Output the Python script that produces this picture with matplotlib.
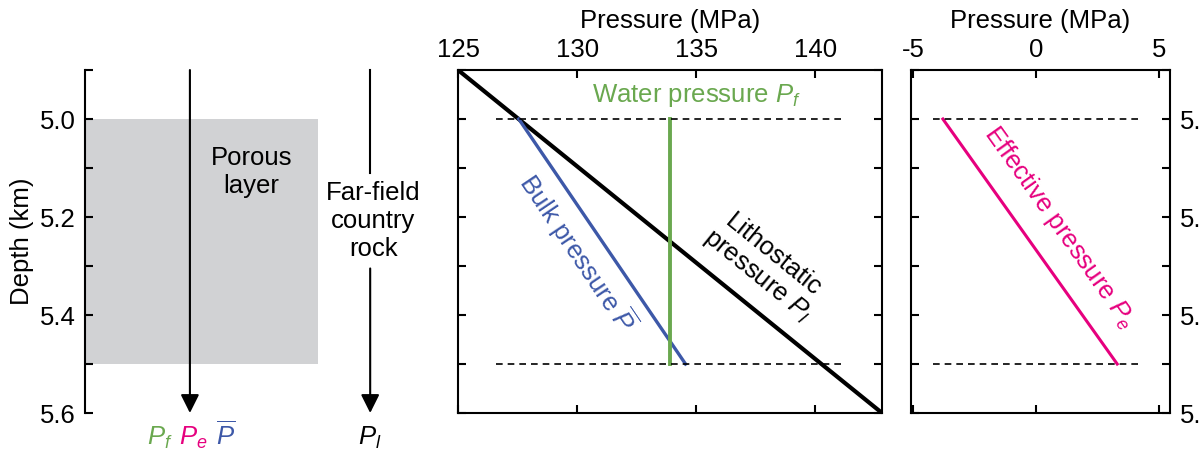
import matplotlib
matplotlib.use("Agg")
import matplotlib.pyplot as plt

plt.rcParams['font.family'] = ['Liberation Sans', 'DejaVu Sans']
plt.rcParams['font.size'] = 18.5
plt.rcParams['axes.unicode_minus'] = False
plt.rcParams['mathtext.fontset'] = 'custom'
plt.rcParams['mathtext.rm'] = 'Liberation Sans'
plt.rcParams['mathtext.it'] = 'Liberation Sans:italic'
plt.rcParams['mathtext.bf'] = 'Liberation Sans:bold'

GREEN = "#6aa84f"
BLUE = "#3d58a8"
PINK = "#e6007e"
GRAY = "#d1d2d4"

# data
depth_lim = (4.9, 5.6)
layer_top, layer_bot = 5.0, 5.5
litho_depth = [4.9, 5.6]
litho_p = [125.0, 142.8]
bulk_depth = [5.0, 5.5]
bulk_p = [127.55, 134.55]
water_depth = [5.0, 5.5]
water_p = [133.9, 133.9]
eff_depth = [5.0, 5.5]
eff_p = [-3.8, 3.3]
mid_xticks = [125, 130, 135, 140]
right_xticks = [-5, 0, 5]
depth_ticks = [4.9, 5.0, 5.1, 5.2, 5.3, 5.4, 5.5, 5.6]
depth_labels = ["", "5.0", "", "5.2", "", "5.4", "", "5.6"]

fig = plt.figure(figsize=(12.01, 4.55), dpi=100)
ax0 = fig.add_axes([0.0708, 0.0923, 0.279, 0.7538])
ax1 = fig.add_axes([0.3814, 0.0923, 0.3530, 0.7538])
ax2 = fig.add_axes([0.7585, 0.0923, 0.2157, 0.7538])

tick_kw = dict(direction="in", length=6, width=1.5)

# ---- left panel: schematic
ax0.set_xlim(0, 1)
ax0.set_ylim(depth_lim[1], depth_lim[0])
for s in ["top", "right", "bottom"]:
    ax0.spines[s].set_visible(False)
ax0.spines["left"].set_linewidth(1.5)
ax0.set_xticks([])
ax0.set_yticks(depth_ticks)
ax0.set_yticklabels(depth_labels)
ax0.tick_params(axis="y", pad=7, **tick_kw)
ax0.set_ylabel("Depth (km)", labelpad=4)
ax0.fill_between([0, 0.6955], layer_top, layer_bot, color=GRAY, lw=0)

arrow_kw = dict(arrowstyle="-|>", lw=1.5, color="k", mutation_scale=28,
                shrinkA=0, shrinkB=0)
ax0.annotate("", xy=(0.313, 5.6), xytext=(0.313, 4.9), arrowprops=arrow_kw,
             annotation_clip=False)
ax0.plot([0.851, 0.851], [4.9, 5.11], color="k", lw=1.5, clip_on=False)
ax0.annotate("", xy=(0.851, 5.6), xytext=(0.851, 5.305), arrowprops=arrow_kw,
             annotation_clip=False)
ax0.text(0.496, 5.108, "Porous\nlayer", ha="center", va="center",
         linespacing=1.25)
ax0.text(0.86, 5.208, "Far-field\ncountry\nrock", ha="center", va="center",
         linespacing=1.2)
ax0.text(0.224, 5.65, "$P_f$", color=GREEN, ha="center", va="center", clip_on=False)
ax0.text(0.322, 5.65, "$P_e$", color=PINK, ha="center", va="center", clip_on=False)
ax0.text(0.418, 5.645, r"$\overline{P}$", color=BLUE, ha="center", va="center",
         clip_on=False)
ax0.text(0.851, 5.65, "$P_l$", color="k", ha="center", va="center", clip_on=False)

# ---- middle panel: pressures
ax1.set_xlim(125, 142.8)
ax1.set_ylim(depth_lim[1], depth_lim[0])
ax1.plot(litho_p, litho_depth, color="k", lw=3)
ax1.plot(bulk_p, bulk_depth, color=BLUE, lw=2.4)
ax1.plot(water_p, water_depth, color=GREEN, lw=2.8)
for d in (layer_top, layer_bot):
    ax1.plot([126.6, 141.1], [d, d], color="k", lw=1.2, ls=(0, (4, 3)))
ax1.xaxis.tick_top()
ax1.xaxis.set_label_position("top")
ax1.set_xticks(mid_xticks)
ax1.set_xlabel("Pressure (MPa)", labelpad=7)
ax1.set_yticks(depth_ticks)
ax1.set_yticklabels([])
ax1.tick_params(axis="x", top=True, bottom=True, pad=6, **tick_kw)
ax1.tick_params(axis="y", left=True, right=True, **tick_kw)
for s in ax1.spines.values():
    s.set_linewidth(1.5)
ax1.text(135.0, 4.951, "Water pressure $P_f$", color=GREEN, ha="center",
         va="center")
ax1.text(130.0, 5.273, r"Bulk pressure $\overline{P}$", color=BLUE,
         ha="center", va="center", rotation=-56, rotation_mode="anchor")
ax1.text(137.9, 5.30, "Lithostatic\npressure $P_l$", color="k", ha="center",
         va="center", rotation=-39, rotation_mode="anchor", linespacing=1.0)

# ---- right panel: effective pressure
ax2.set_xlim(-5.1, 5.45)
ax2.set_ylim(depth_lim[1], depth_lim[0])
ax2.plot(eff_p, eff_depth, color=PINK, lw=2.2)
for d in (layer_top, layer_bot):
    ax2.plot([-4.2, 4.2], [d, d], color="k", lw=1.2, ls=(0, (4, 3)))
ax2.xaxis.tick_top()
ax2.xaxis.set_label_position("top")
ax2.set_xticks(right_xticks)
ax2.set_xlabel("Pressure (MPa)", labelpad=7)
ax2.yaxis.tick_right()
ax2.set_yticks(depth_ticks)
ax2.set_yticklabels(depth_labels)
ax2.tick_params(axis="x", top=True, bottom=True, pad=6, **tick_kw)
ax2.tick_params(axis="y", left=True, right=True, pad=7, **tick_kw)
for s in ax2.spines.values():
    s.set_linewidth(1.5)
ax2.text(0.97, 5.22, "Effective pressure $P_e$", color=PINK, ha="center",
         va="center", rotation=-54.5, rotation_mode="anchor")

fig.savefig("out.png", dpi=100)
